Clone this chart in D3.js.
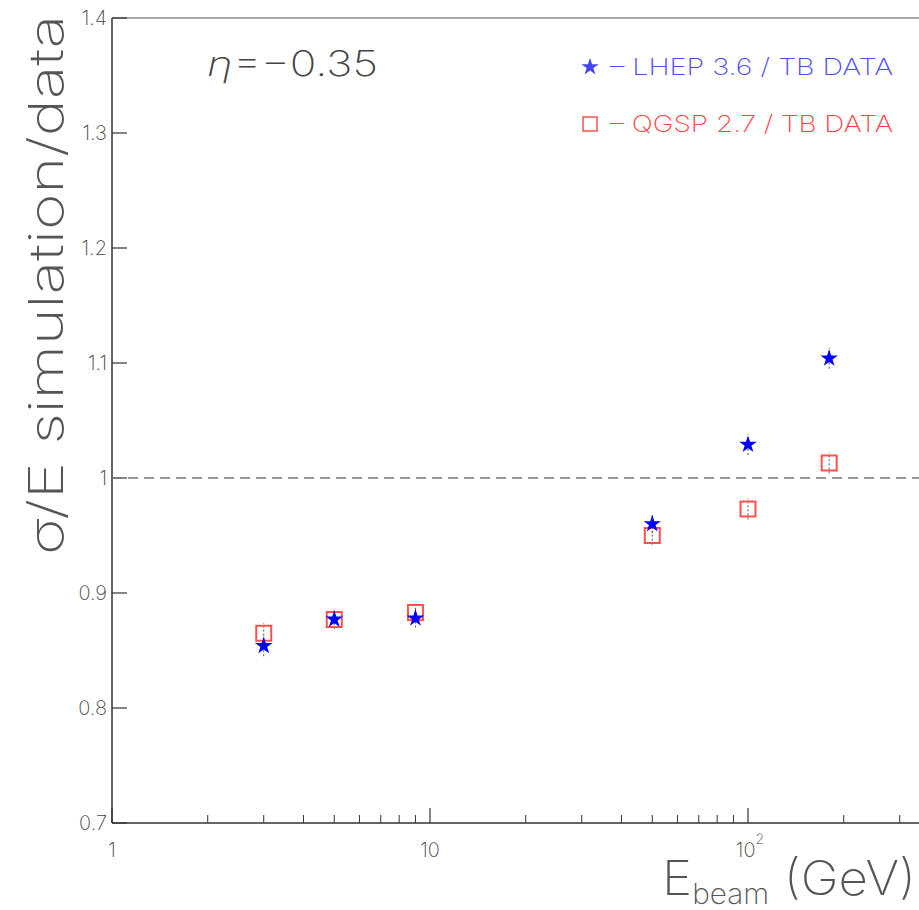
<!DOCTYPE html>
<html lang="en">
<head>
    <meta charset="UTF-8">
    <title>sigma/E simulation / data</title>
    <script src="https://d3js.org/d3.v7.min.js"></script>
    <style>
        body {
            margin: 0;
            background: #ffffff;
        }
        svg {
            display: block;
            font-family: Inter, "DejaVu Sans", "Liberation Sans", sans-serif;
            font-weight: 200;
        }
        .tick-label {
            fill: #444;
            font-size: 20px;
        }
    </style>
</head>
<body>
    <svg id="chart" width="919" height="910"></svg>

    <script>
        // beam energies (GeV) and ratios
        const energies = [3, 5, 9, 50, 100, 180];
        const lhepRatio = [0.854, 0.877, 0.878, 0.960, 1.029, 1.104];
        const qgspRatio = [0.865, 0.877, 0.883, 0.950, 0.973, 1.013];
        const lhepErr = [0.009, 0.008, 0.008, 0.008, 0.009, 0.009];
        const qgspErr = [0.009, 0.008, 0.008, 0.008, 0.009, 0.009];

        const yTicks = [0.7, 0.8, 0.9, 1.0, 1.1, 1.2, 1.3, 1.4];
        const yTickLabels = ["0.7", "0.8", "0.9", "1", "1.1", "1.2", "1.3", "1.4"];
        const xMajor = [1, 10, 100];
        const xMinor = [2, 3, 4, 5, 6, 7, 8, 9, 20, 30, 40, 50, 60, 70, 80, 90, 200, 300, 400];

        const plotLeft = 112, plotTop = 18, plotBottom = 823;
        const decade = 318;

        const svg = d3.select("#chart");

        const x = d3.scaleLog().domain([1, 500]).range([plotLeft, plotLeft + decade * Math.log10(500)]);
        const y = d3.scaleLinear().domain([0.7, 1.4]).range([plotBottom, plotTop]);
        const rightEdge = 930;

        const axisColor = "#333";

        // frame: left, bottom, top
        svg.append("line").attr("x1", plotLeft).attr("x2", plotLeft).attr("y1", plotTop).attr("y2", plotBottom)
            .attr("stroke", axisColor).attr("stroke-width", 1.5);
        svg.append("line").attr("x1", plotLeft).attr("x2", rightEdge).attr("y1", plotBottom).attr("y2", plotBottom)
            .attr("stroke", axisColor).attr("stroke-width", 1.5);
        svg.append("line").attr("x1", plotLeft).attr("x2", rightEdge).attr("y1", plotTop).attr("y2", plotTop)
            .attr("stroke", "#555").attr("stroke-width", 1.2);

        // y ticks
        svg.selectAll(".ytick")
            .data(yTicks)
            .enter()
            .append("line")
            .attr("x1", plotLeft).attr("x2", plotLeft + 15)
            .attr("y1", d => y(d)).attr("y2", d => y(d))
            .attr("stroke", axisColor).attr("stroke-width", 1.2);

        svg.selectAll(".ylab")
            .data(yTicks)
            .enter()
            .append("text")
            .attr("class", "tick-label")
            .attr("x", plotLeft - 5)
            .attr("y", d => y(d))
            .attr("dy", "0.35em")
            .attr("text-anchor", "end")
            .text((d, i) => yTickLabels[i]);

        // x ticks
        svg.selectAll(".xminor")
            .data(xMinor)
            .enter()
            .append("line")
            .attr("x1", d => x(d)).attr("x2", d => x(d))
            .attr("y1", plotBottom).attr("y2", plotBottom - 8)
            .attr("stroke", axisColor).attr("stroke-width", 1);

        svg.selectAll(".xmajor")
            .data(xMajor)
            .enter()
            .append("line")
            .attr("x1", d => x(d)).attr("x2", d => x(d))
            .attr("y1", plotBottom).attr("y2", plotBottom - 15)
            .attr("stroke", axisColor).attr("stroke-width", 1.2);

        svg.append("text").attr("class", "tick-label")
            .attr("x", x(1)).attr("y", 857).attr("text-anchor", "middle").text("1");
        svg.append("text").attr("class", "tick-label")
            .attr("x", x(10)).attr("y", 857).attr("text-anchor", "middle").text("10");
        const t100 = svg.append("text").attr("class", "tick-label")
            .attr("x", x(100) + 2).attr("y", 857).attr("text-anchor", "middle");
        t100.append("tspan").text("10");
        t100.append("tspan").attr("dy", -13).style("font-size", "14px").text("2");

        // reference line at 1
        svg.append("line")
            .attr("x1", plotLeft).attr("x2", rightEdge)
            .attr("y1", y(1)).attr("y2", y(1))
            .attr("stroke", "#777").attr("stroke-width", 1.5)
            .attr("stroke-dasharray", "10,6");

        // error bars
        const errColor = "#555";
        svg.selectAll(".errq")
            .data(energies)
            .enter()
            .append("line")
            .attr("x1", d => x(d)).attr("x2", d => x(d))
            .attr("y1", (d, i) => y(qgspRatio[i] - qgspErr[i]))
            .attr("y2", (d, i) => y(qgspRatio[i] + qgspErr[i]))
            .attr("stroke", errColor).attr("stroke-width", 1)
            .attr("stroke-dasharray", "2,2");
        svg.selectAll(".errl")
            .data(energies)
            .enter()
            .append("line")
            .attr("x1", d => x(d)).attr("x2", d => x(d))
            .attr("y1", (d, i) => y(lhepRatio[i] - lhepErr[i]))
            .attr("y2", (d, i) => y(lhepRatio[i] + lhepErr[i]))
            .attr("stroke", errColor).attr("stroke-width", 1)
            .attr("stroke-dasharray", "2,2");

        // QGSP squares
        const redColor = "#ff5050";
        const blueColor = "#0000ff";
        const square = d3.symbol().type(d3.symbolSquare).size(225);
        const star = d3.symbol().type(d3.symbolStar).size(95);

        svg.selectAll(".qgsp")
            .data(energies)
            .enter()
            .append("path")
            .attr("d", square)
            .attr("transform", (d, i) => `translate(${x(d)},${y(qgspRatio[i])})`)
            .attr("fill", "none")
            .attr("stroke", redColor)
            .attr("stroke-width", 2);

        // LHEP stars
        svg.selectAll(".lhep")
            .data(energies)
            .enter()
            .append("path")
            .attr("d", star)
            .attr("transform", (d, i) => `translate(${x(d)},${y(lhepRatio[i])})`)
            .attr("fill", blueColor);

        // legend
        svg.append("path").attr("d", star)
            .attr("transform", "translate(590,67)")
            .attr("fill", "#4444ff");
        svg.append("text")
            .attr("x", 610).attr("y", 75)
            .attr("textLength", 283)
            .attr("lengthAdjust", "spacingAndGlyphs")
            .style("font-size", "23px").style("fill", "#4a4aff")
            .text("\u2013 LHEP 3.6 / TB DATA");

        svg.append("path").attr("d", d3.symbol().type(d3.symbolSquare).size(196))
            .attr("transform", "translate(590,124)")
            .attr("fill", "none").attr("stroke", redColor).attr("stroke-width", 1.5);
        svg.append("text")
            .attr("x", 610).attr("y", 132)
            .attr("textLength", 283)
            .attr("lengthAdjust", "spacingAndGlyphs")
            .style("font-size", "23px").style("fill", "#ff4040")
            .text("\u2013 QGSP 2.7 / TB DATA");

        // eta label
        const eta = svg.append("text")
            .attr("x", 207).attr("y", 76)
            .attr("textLength", 171)
            .attr("lengthAdjust", "spacingAndGlyphs")
            .style("font-size", "35px").style("fill", "#444");
        eta.append("tspan").style("font-style", "italic").text("\u03b7");
        eta.append("tspan").text("=\u22120.35");

        // y title
        svg.append("text")
            .attr("transform", "translate(63,15) rotate(-90)")
            .attr("text-anchor", "end")
            .attr("textLength", 540)
            .attr("lengthAdjust", "spacingAndGlyphs")
            .style("font-size", "48px").style("fill", "#555")
            .text("\u03c3/E simulation/data");

        // x title
        const xt = svg.append("text")
            .attr("x", 662).attr("y", 895)
            .attr("textLength", 254)
            .attr("lengthAdjust", "spacingAndGlyphs")
            .style("font-size", "48px").style("fill", "#555");
        xt.append("tspan").text("E");
        xt.append("tspan").attr("dy", 9).style("font-size", "28px").text("beam");
        xt.append("tspan").attr("dy", -9).text(" (GeV)");
    </script>
</body>
</html>
